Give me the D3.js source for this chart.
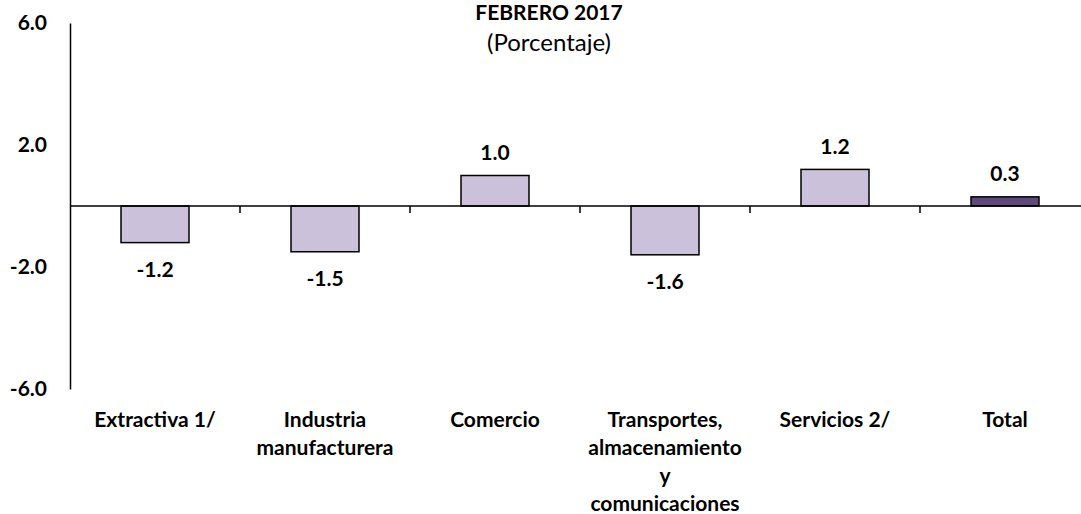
<!DOCTYPE html>
<html>
<head>
<meta charset="utf-8">
<script src="https://cdn.jsdelivr.net/npm/d3@7"></script>
<style>
  html, body { margin: 0; padding: 0; background: #fff; }
  svg { display: block; }
  text { font-family: Lato, "Open Sans", sans-serif; fill: #000; }
</style>
</head>
<body>
<svg id="chart" width="1081" height="514"></svg>
<script>
const categories = ["Extractiva 1/", "Industria\nmanufacturera", "Comercio", "Transportes,\nalmacenamiento\ny\ncomunicaciones", "Servicios 2/", "Total"];
const values = [-1.2, -1.5, 1.0, -1.6, 1.2, 0.3];
const valueLabels = ["-1.2", "-1.5", "1.0", "-1.6", "1.2", "0.3"];
const yTicks = [-6, -2, 2, 6];
const yTickLabels = ["-6.0", "-2.0", "2.0", "6.0"];
const titleText = "FEBRERO 2017";
const subtitleText = "(Porcentaje)";

const svg = d3.select("#chart");
const plotLeft = 70, plotRight = 1090, plotTop = 23, plotBottom = 389;

const x = d3.scaleBand().domain(categories).range([plotLeft, plotRight]).paddingInner(0.6).paddingOuter(0.3);
const y = d3.scaleLinear().domain([-6, 6]).range([plotBottom, plotTop]);

// Title
svg.append("text").attr("x", 549).attr("y", 20).attr("text-anchor", "middle")
  .style("font-weight", "bold").style("font-size", "21px").text(titleText);
svg.append("text").attr("x", 549).attr("y", 51).attr("text-anchor", "middle")
  .style("font-size", "24px").text(subtitleText);

// Y axis
const yAxis = d3.axisLeft(y).tickValues(yTicks).tickSize(0).tickPadding(23)
  .tickFormat((d, i) => yTickLabels[i]);
const gy = svg.append("g").attr("transform", `translate(${plotLeft},0)`).call(yAxis);
gy.select(".domain").attr("stroke", "#000").attr("stroke-width", 1.5);
gy.selectAll(".tick text").style("font-family", "Lato, sans-serif").style("font-weight", "bold").style("font-size", "21px").attr("fill", "#000");

// Bars
svg.append("g").selectAll("rect").data(categories).join("rect")
  .attr("x", d => x(d))
  .attr("width", x.bandwidth())
  .attr("y", (d, i) => y(Math.max(0, values[i])))
  .attr("height", (d, i) => Math.abs(y(values[i]) - y(0)))
  .attr("fill", (d, i) => i === categories.length - 1 ? "#5F497A" : "#CCC1DA")
  .attr("stroke", "#000").attr("stroke-width", 1.5);

// Zero line with category-boundary ticks
const step = x.step();
const gx = svg.append("g");
gx.append("line").attr("x1", plotLeft).attr("x2", plotRight).attr("y1", y(0)).attr("y2", y(0))
  .attr("stroke", "#000").attr("stroke-width", 1.5);
gx.selectAll("line.tk").data(categories).join("line").attr("class", "tk")
  .attr("x1", d => x(d) + x.bandwidth() / 2 + step / 2)
  .attr("x2", d => x(d) + x.bandwidth() / 2 + step / 2)
  .attr("y1", y(0)).attr("y2", y(0) + 7)
  .attr("stroke", "#000").attr("stroke-width", 1.5);

// Value labels
svg.append("g").selectAll("text").data(categories).join("text")
  .attr("x", d => x(d) + x.bandwidth() / 2)
  .attr("y", (d, i) => values[i] >= 0 ? y(values[i]) - 23 : y(values[i]) + 27)
  .attr("dy", "0.35em")
  .attr("text-anchor", "middle")
  .style("font-weight", "bold").style("font-size", "21px")
  .text((d, i) => valueLabels[i]);

// Category labels
const cl = svg.append("g").selectAll("text").data(categories).join("text")
  .attr("text-anchor", "middle")
  .style("font-weight", "bold").style("font-size", "21px");
cl.each(function(d) {
  const t = d3.select(this);
  d.split("\n").forEach((line, k) => {
    t.append("tspan").attr("x", x(d) + x.bandwidth() / 2).attr("y", 420 + k * 28).attr("dy", "0.35em").text(line);
  });
});
</script>
</body>
</html>
